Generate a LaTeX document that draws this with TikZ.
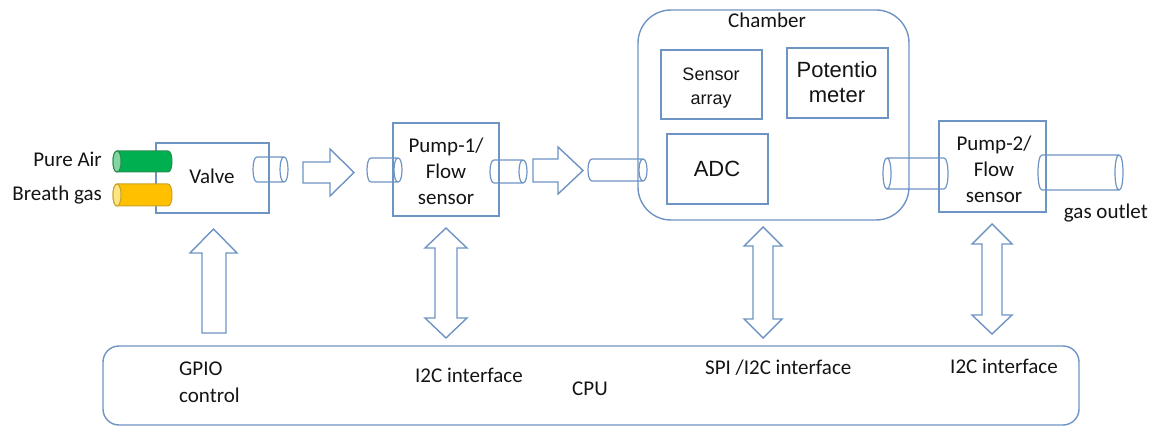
\documentclass[tikz,border=0pt]{standalone}
\usepackage{fontspec}
\setmainfont{Carlito}
\newfontfamily\arialf{Liberation Sans}
\definecolor{ln}{RGB}{110,148,196}
\definecolor{txtc}{RGB}{20,20,20}
\definecolor{grn}{RGB}{0,176,80}
\definecolor{grnl}{RGB}{130,215,160}
\definecolor{grnd}{RGB}{40,140,80}
\definecolor{ylw}{RGB}{255,192,0}
\definecolor{ylwl}{RGB}{255,228,130}
\definecolor{ylwd}{RGB}{200,160,40}
% open tube: half ellipse at left end, full ellipse at right end
\newcommand\tubeR[4]{%
  \draw[tubeln] (#1,#3) -- (#2,#3) (#1,#4) -- (#2,#4)
    (#1,#3) .. controls ({#1-5.33},#3) and ({#1-5.33},#4) .. (#1,#4)
    (#2,#3) .. controls ({#2+5.33},#3) and ({#2+5.33},#4) .. (#2,#4)
            .. controls ({#2-5.33},#4) and ({#2-5.33},#3) .. (#2,#3);}
% open tube: full ellipse at left end, half ellipse at right end
\newcommand\tubeL[4]{%
  \draw[tubeln] (#1,#3) -- (#2,#3) (#1,#4) -- (#2,#4)
    (#2,#3) .. controls ({#2+5.33},#3) and ({#2+5.33},#4) .. (#2,#4)
    (#1,#3) .. controls ({#1+5.33},#3) and ({#1+5.33},#4) .. (#1,#4)
            .. controls ({#1-5.33},#4) and ({#1-5.33},#3) .. (#1,#3);}
% filled tube: full ellipse at left end
\newcommand\tubeF[7]{%
  \filldraw[fill=#5, draw=#7, line width=1pt] (#1,#3) -- (#2,#3)
    .. controls ({#2+5.33},#3) and ({#2+5.33},#4) .. (#2,#4) -- (#1,#4)
    .. controls ({#1-5.33},#4) and ({#1-5.33},#3) .. (#1,#3) -- cycle;
  \filldraw[fill=#6, draw=#7, line width=1pt] (#1,#3)
    .. controls ({#1+5.33},#3) and ({#1+5.33},#4) .. (#1,#4)
    .. controls ({#1-5.33},#4) and ({#1-5.33},#3) .. (#1,#3) -- cycle;}
\begin{document}
\begin{tikzpicture}[x=1pt,y=-1pt,
  box/.style={draw=ln, line width=1.4pt, inner sep=0pt},
  tubeln/.style={draw=ln, line width=1.2pt},
  barrow/.style={draw=ln, fill=white, line width=1.4pt, line join=miter},
  txt/.style={inner sep=0pt, text=txtc, align=center, font=\fontsize{21}{26}\selectfont},
  atxt/.style={inner sep=0pt, text=txtc, align=center, font=\arialf\fontsize{18}{24}\selectfont},
  btxt/.style={inner sep=0pt, text=txtc, align=center, font=\arialf\fontsize{22}{25}\selectfont}]
\useasboundingbox (0,0) rectangle (1158,427);

% boxes
\node[box, minimum width=113pt, minimum height=70pt] (valve) at (212.5,178) {};
\node[box, minimum width=106pt, minimum height=93pt] (pump1) at (446,169.5) {};
\node[box, rounded corners=33pt, minimum width=271pt, minimum height=210pt] (chamber) at (773.5,115) {};
\node[box, minimum width=101pt, minimum height=69pt] (sensor) at (711.5,84.5) {};
\node[box, minimum width=101pt, minimum height=70pt] (potent) at (837.5,83) {};
\node[box, minimum width=101pt, minimum height=70pt] (adc) at (717.5,169) {};
\node[box, minimum width=107pt, minimum height=91pt] (pump2) at (992.5,166.5) {};
\node[box, rounded corners=16pt, minimum width=976pt, minimum height=79pt] (cpu) at (591,385.5) {};

% labels
\node[txt, anchor=base east] (lpa) at (102,167) {Pure Air};
\node[txt, anchor=base east] (lbg) at (102,201) {Breath gas};
\node[txt, anchor=base] (lvalve) at (212,184) {Valve};
\node[txt] (lpump1) at (446,171.5) {Pump-1/\\Flow\\sensor};
\node[txt, anchor=base] (lchamber) at (767,28) {Chamber};
\node[atxt] (lsensor) at (711,88) {Sensor\\array};
\node[btxt] (lpot) at (837,82) {Potentio\\meter};
\node[btxt, anchor=base] (ladc) at (717,177) {ADC};
\node[txt] (lpump2) at (994,169.5) {Pump-2/\\Flow\\sensor};
\node[txt, anchor=base east] (lout) at (1148,219) {gas outlet};
\node[txt, align=left, anchor=west, font=\fontsize{21}{27}\selectfont] (lgpio) at (179,382) {GPIO\\control};
\node[txt, anchor=base west] (li2c1) at (415,382) {I2C interface};
\node[txt, anchor=base west] (lcpu) at (572,395) {CPU};
\node[txt, anchor=base west] (lspi) at (705,374) {SPI /I2C interface};
\node[txt, anchor=base west] (li2c2) at (950,373) {I2C interface};

% tubes
\tubeF{117}{168}{151}{172}{grn}{grnl}{grnd}
\tubeF{117}{168}{184}{206}{ylw}{ylwl}{ylwd}
\tubeR{257}{284}{157}{182}
\tubeR{371}{398}{158}{182}
\tubeR{494}{523}{160}{183}
\tubeR{592}{643}{159}{181}
\tubeL{887}{944}{158}{189}
\tubeR{1042}{1119}{155}{190}

% block arrows (flow)
\draw[barrow] (303,162) -- (330,162) -- (330,149) -- (354,172.5) -- (330,196) -- (330,183) -- (303,183) -- cycle;
\draw[barrow] (533,159) -- (558,159) -- (558,147) -- (583,170.5) -- (558,194) -- (558,182) -- (533,182) -- cycle;

% control arrows
\draw[barrow] (202,333) -- (202,253) -- (190,253) -- (213.5,229) -- (237,253) -- (226,253) -- (226,333) -- cycle;
\draw[barrow] (435,248) -- (425,248) -- (446,228) -- (467,248) -- (457,248) -- (457,318) -- (467,318) -- (446,338) -- (425,318) -- (435,318) -- cycle;
\draw[barrow] (753,246) -- (744,246) -- (763,227) -- (782,246) -- (773,246) -- (773,319) -- (782,319) -- (763,338) -- (744,319) -- (753,319) -- cycle;
\draw[barrow] (982,244) -- (972,244) -- (992,224) -- (1012,244) -- (1002,244) -- (1002,315) -- (1012,315) -- (992,334) -- (972,315) -- (982,315) -- cycle;
\end{tikzpicture}
\end{document}
